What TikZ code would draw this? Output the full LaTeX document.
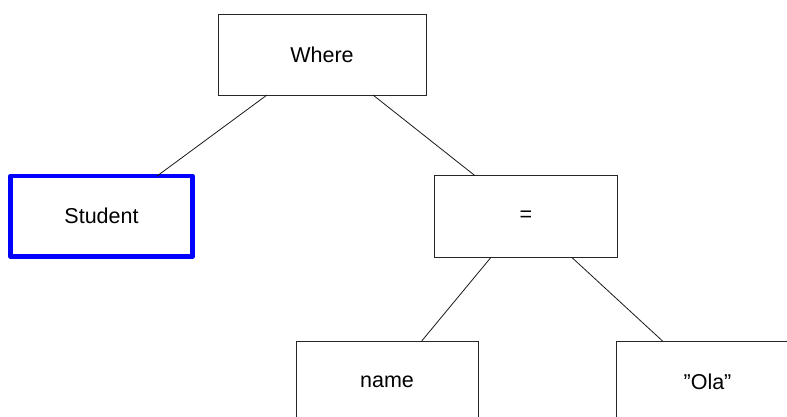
\documentclass[tikz,border=0pt]{standalone}
\usepackage{fontspec}
\setmainfont{Liberation Sans}
\begin{document}
\begin{tikzpicture}[x=1pt,y=-1pt,
  treebox/.style={draw=black!85, line width=0.9pt, rectangle, outer sep=0pt,
    minimum width=182pt, minimum height=81pt, inner sep=0pt,
    font=\fontsize{21.5}{26}\selectfont},
  selbox/.style={treebox, draw=blue, line width=4.5pt, line join=round},
  link/.style={draw=black!90, line width=0.8pt}]
  \useasboundingbox (0,0) rectangle (787,416);
  \clip (0,0) rectangle (787,416);

  \node[treebox, minimum width=208pt] (where) at (322,54.5) {Where};
  \node[selbox, minimum width=182pt, minimum height=80.5pt] (student) at (101.5,216.3) {Student};
  \node[treebox, minimum width=182.6pt, minimum height=81.6pt] (eq) at (526,216.5) {=};
  \node[treebox] (name) at (387,381.5) {name};
  \node[treebox] (ola) at (707.5,381.5) {”Ola”};

  \draw[link] ([xshift=49pt]where.south west) -- ([xshift=146.5pt]student.north west);
  \draw[link] ([xshift=155pt]where.south west) -- ([xshift=40.3pt]eq.north west);
  \draw[link] ([xshift=56.3pt]eq.south west) -- ([xshift=125.7pt]name.north west);
  \draw[link] ([xshift=137pt]eq.south west) -- ([xshift=46pt]ola.north west);
\end{tikzpicture}
\end{document}
